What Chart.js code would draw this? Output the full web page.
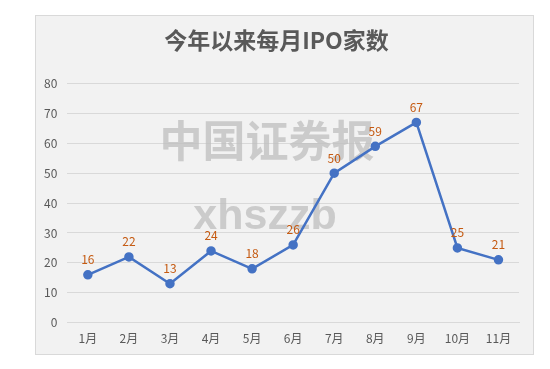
<!DOCTYPE html>
<html><head><meta charset="utf-8">
<script src="https://cdn.jsdelivr.net/npm/chart.js@4/dist/chart.umd.min.js"></script>
<style>html,body{margin:0;padding:0;background:#fff;}#wrap{width:550px;height:369px;}</style>
</head><body><div id="wrap"><canvas id="c" width="550" height="369"></canvas></div>
<script>
const titleText = "今年以来每月IPO家数";
const months = ["1月","2月","3月","4月","5月","6月","7月","8月","9月","10月","11月"];
const ipoCounts = [16,22,13,24,18,26,50,59,67,25,21];
const yTicks = [0,10,20,30,40,50,60,70,80];
const watermark1 = "中国证券报";
const watermark2 = "xhszzb";

const FONT = "'Noto Sans CJK SC','Noto Sans',sans-serif";

const boxPlugin = {
  id: 'box',
  beforeDraw(chart) {
    const ctx = chart.ctx;
    ctx.save();
    ctx.fillStyle = '#ffffff';
    ctx.fillRect(0,0,chart.width,chart.height);
    ctx.fillStyle = '#f2f2f2';
    ctx.fillRect(35.5,15.5,498,339);
    ctx.strokeStyle = '#d9d9d9';
    ctx.lineWidth = 1;
    ctx.strokeRect(35.5,15.5,498,339);
    ctx.restore();
  },
  beforeDatasetsDraw(chart) {
    const ctx = chart.ctx;
    ctx.save();
    ctx.fillStyle = 'rgba(190,190,190,0.75)';
    ctx.textAlign = 'center';
    ctx.textBaseline = 'middle';
    ctx.font = "bold 43px " + FONT;
    ctx.fillText(watermark1, 267, 141);
    ctx.textBaseline = 'alphabetic';
    ctx.font = "bold 43px 'Liberation Sans','DejaVu Sans',sans-serif";
    ctx.fillText(watermark2, 265, 229);
    ctx.restore();
  },
  afterDatasetsDraw(chart) {
    const ctx = chart.ctx;
    const meta = chart.getDatasetMeta(0);
    ctx.save();
    ctx.fillStyle = '#c55a11';
    ctx.font = "12px " + FONT;
    ctx.textAlign = 'center';
    ctx.textBaseline = 'middle';
    meta.data.forEach((pt, i) => {
      ctx.fillText(String(chart.data.datasets[0].data[i]), pt.x, pt.y - 15);
    });
    ctx.restore();
  }
};

new Chart(document.getElementById('c'), {
  type: 'line',
  data: {
    labels: months,
    datasets: [{
      data: ipoCounts,
      borderColor: '#4472c4',
      backgroundColor: '#4472c4',
      borderWidth: 2.5,
      pointRadius: 3.5,
      pointBackgroundColor: '#4472c4',
      pointBorderColor: '#4472c4',
      tension: 0
    }]
  },
  options: {
    responsive: false,
    animation: false,
    devicePixelRatio: 1,
    layout: { padding: { left: 34, right: 31, top: 15, bottom: 14 } },
    plugins: {
      legend: { display: false },
      tooltip: { enabled: false },
      title: {
        display: true,
        text: titleText,
        color: '#595959',
        font: { family: FONT, size: 23, weight: 'bold', lineHeight: 1.2 },
        padding: { top: 11, bottom: 30 }
      }
    },
    scales: {
      x: {
        offset: true,
        grid: { display: false, drawTicks: false },
        border: { display: true, color: '#d9d9d9', width: 1 },
        ticks: { color: '#595959', font: { family: FONT, size: 12 }, padding: 9, maxRotation: 0 }
      },
      y: {
        min: 0, max: 80,
        afterBuildTicks(axis) { axis.ticks = yTicks.map(v => ({ value: v })); },
        grid: { color: '#d9d9d9', lineWidth: 1, drawTicks: false },
        border: { display: false },
        ticks: { color: '#595959', font: { family: FONT, size: 12 }, padding: 10 }
      }
    }
  },
  plugins: [boxPlugin]
});
</script>
</body></html>
